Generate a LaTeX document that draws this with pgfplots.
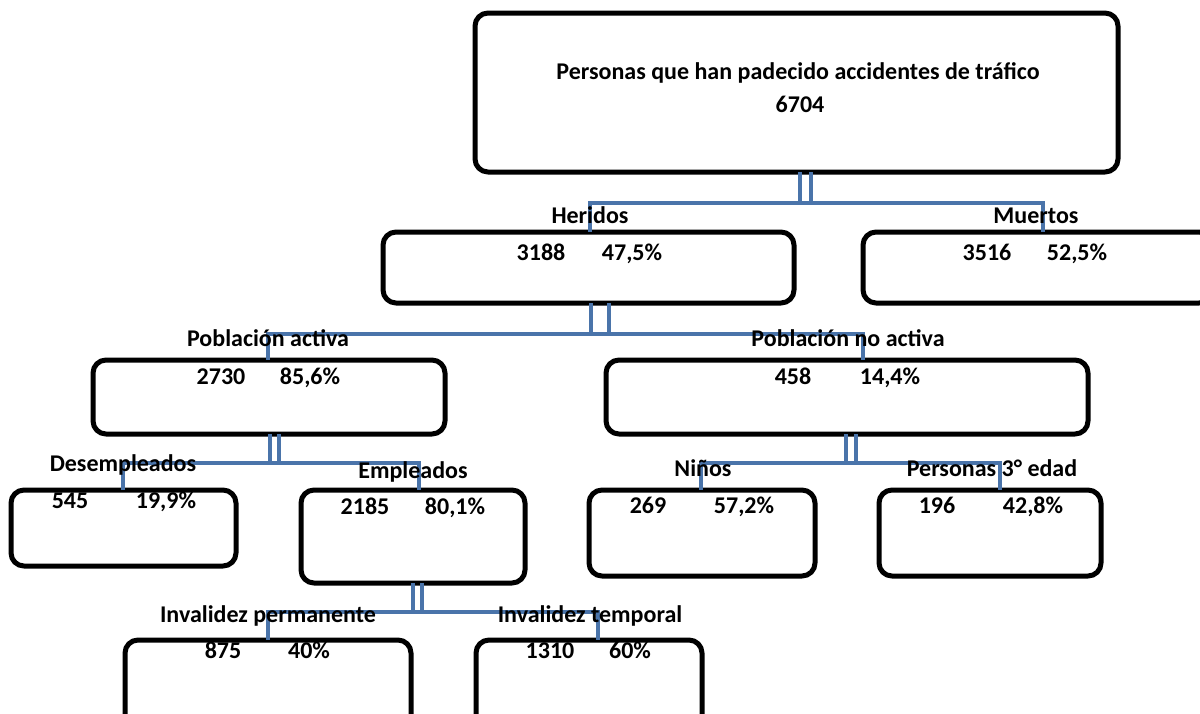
\documentclass[border=0pt]{standalone}
\usepackage{fontspec}
\setmainfont{Carlito}
\usepackage{pgfplots}
\pgfplotsset{compat=1.18}
\definecolor{conn}{RGB}{74,116,170}
\tikzset{
  box/.style={black, line width=2.5pt, rounded corners=6.5pt, line join=round},
  cn/.style={conn, line width=2.4pt},
  lab/.style={font=\bfseries\fontsize{12}{14}\selectfont, inner sep=0pt, anchor=center,
              text height=0.644em, text depth=0pt},
}
\begin{document}
\begin{tikzpicture}
\begin{axis}[
  width=600pt, height=356.5pt, scale only axis,
  xmin=0, xmax=1200, ymin=0, ymax=713, y dir=reverse,
  hide axis, clip=true,
]
% ---------- boxes ----------
\addplot[box, no marks] coordinates {(800,13) (1118,13) (1118,172) (475,172) (475,13) (800,13)};      % total
\addplot[box, no marks] coordinates {(590,232) (794,232) (794,303) (383,303) (383,232) (590,232)};    % heridos
\addplot[box, no marks] coordinates {(1030,232) (1212,232) (1212,303) (863,303) (863,232) (1030,232)}; % muertos
\addplot[box, no marks] coordinates {(269,360) (445,360) (445,434) (93,434) (93,360) (269,360)};      % activa
\addplot[box, no marks] coordinates {(847,360) (1088,360) (1088,434) (606,434) (606,360) (847,360)};  % no activa
\addplot[box, no marks] coordinates {(123,490) (236,490) (236,566) (11,566) (11,490) (123,490)};      % desempleados
\addplot[box, no marks] coordinates {(413,490) (525,490) (525,583) (301,583) (301,490) (413,490)};    % empleados
\addplot[box, no marks] coordinates {(702,490) (815,490) (815,576) (589,576) (589,490) (702,490)};    % ninos
\addplot[box, no marks] coordinates {(990,490) (1101,490) (1101,576) (879,576) (879,490) (990,490)};  % 3 edad
\addplot[box, no marks] coordinates {(125,730) (125,640) (411,640) (411,730)};                        % inv. permanente
\addplot[box, no marks] coordinates {(476,730) (476,640) (702,640) (702,730)};                        % inv. temporal
% ---------- connectors ----------
\addplot[cn, no marks] coordinates {(800,172) (800,203)};
\addplot[cn, no marks] coordinates {(811,172) (811,203)};
\addplot[cn, no marks] coordinates {(590,232) (590,203) (1043,203) (1043,232)};
\addplot[cn, no marks] coordinates {(591,303) (591,334)};
\addplot[cn, no marks] coordinates {(609,303) (609,334)};
\addplot[cn, no marks] coordinates {(268,360) (268,334) (863,334) (863,360)};
\addplot[cn, no marks] coordinates {(270,434) (270,463)};
\addplot[cn, no marks] coordinates {(279,434) (279,463)};
\addplot[cn, no marks] coordinates {(123,490) (123,463) (419,463) (419,490)};
\addplot[cn, no marks] coordinates {(846,434) (846,463)};
\addplot[cn, no marks] coordinates {(856,434) (856,463)};
\addplot[cn, no marks] coordinates {(701,490) (701,463) (1000,463) (1000,490)};
\addplot[cn, no marks] coordinates {(413,583) (413,612)};
\addplot[cn, no marks] coordinates {(422,583) (422,612)};
\addplot[cn, no marks] coordinates {(268,640) (268,612) (598,612) (598,640)};
% ---------- texts ----------
\node[lab] at (axis cs:798,73) {Personas que han padecido accidentes de tráfico};
\node[lab] at (axis cs:800,106) {6704};
\node[lab] at (axis cs:590,217) {Heridos};
\node[lab] at (axis cs:1036,217) {Muertos};
\node[lab] at (axis cs:541,254) {3188};
\node[lab] at (axis cs:632,254) {47,5\%};
\node[lab] at (axis cs:987,254) {3516};
\node[lab] at (axis cs:1077,254) {52,5\%};
\node[lab] at (axis cs:268,340) {Población activa};
\node[lab] at (axis cs:848,340) {Población no activa};
\node[lab] at (axis cs:221,378) {2730};
\node[lab] at (axis cs:310,378) {85,6\%};
\node[lab] at (axis cs:793,378) {458};
\node[lab] at (axis cs:890,378) {14,4\%};
\node[lab] at (axis cs:123,465) {Desempleados};
\node[lab] at (axis cs:413,472) {Empleados};
\node[lab] at (axis cs:703,470) {Niños};
\node[lab] at (axis cs:992,470) {Personas 3° edad};
\node[lab] at (axis cs:70,502) {545};
\node[lab] at (axis cs:166,502) {19,9\%};
\node[lab] at (axis cs:365,508) {2185};
\node[lab] at (axis cs:455,508) {80,1\%};
\node[lab] at (axis cs:648,507) {269};
\node[lab] at (axis cs:744,507) {57,2\%};
\node[lab] at (axis cs:937,507) {196};
\node[lab] at (axis cs:1033,507) {42,8\%};
\node[lab] at (axis cs:268,616) {Invalidez permanente};
\node[lab] at (axis cs:590,616) {Invalidez temporal};
\node[lab] at (axis cs:223,652) {875};
\node[lab] at (axis cs:309,652) {40\%};
\node[lab] at (axis cs:550,652) {1310};
\node[lab] at (axis cs:630,652) {60\%};
\end{axis}
\pgfresetboundingbox
\useasboundingbox (current axis.south west) rectangle (current axis.north east);
\end{tikzpicture}
\end{document}
